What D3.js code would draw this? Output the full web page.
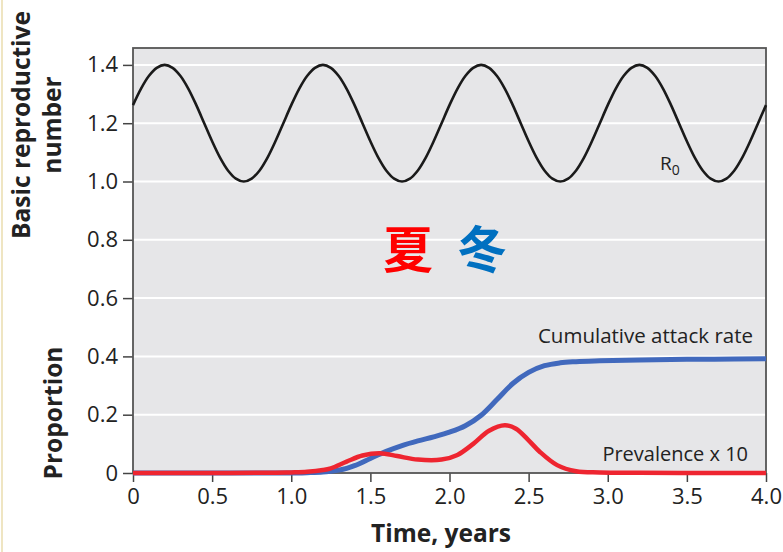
<!DOCTYPE html>
<html><head><meta charset="utf-8">
<script src="https://cdn.jsdelivr.net/npm/d3@7"></script>
<style>body{margin:0;background:#fff;}svg{display:block;font-family:"Open Sans","Noto Sans",sans-serif;}</style>
</head><body>
<svg id="c" width="783" height="552"></svg>
<script>
// ---- data ----
const r0Times = d3.range(0, 4.0001, 0.05).map(v => +v.toFixed(2));
const r0Values = [
 1.262,1.318,1.362,1.390,1.400,1.390,1.362,1.318,1.262,1.200,1.138,1.082,1.038,1.010,1.000,1.010,1.038,1.082,1.138,1.200,
 1.262,1.318,1.362,1.390,1.400,1.390,1.362,1.318,1.262,1.200,1.138,1.082,1.038,1.010,1.000,1.010,1.038,1.082,1.138,1.200,
 1.262,1.318,1.362,1.390,1.400,1.390,1.362,1.318,1.262,1.200,1.138,1.082,1.038,1.010,1.000,1.010,1.038,1.082,1.138,1.200,
 1.262,1.318,1.362,1.390,1.400,1.390,1.362,1.318,1.262,1.200,1.138,1.082,1.038,1.010,1.000,1.010,1.038,1.082,1.138,1.200,
 1.262
];
const attackTimes = [0,0.5,1.0,1.1,1.2,1.25,1.3,1.35,1.4,1.5,1.6,1.7,1.8,1.9,2.0,2.1,2.2,2.3,2.4,2.5,2.6,2.7,2.8,2.95,3.2,3.5,3.8,4.0];
const attackValues = [0,0,0,0.001,0.003,0.006,0.010,0.016,0.025,0.050,0.074,0.094,0.110,0.124,0.140,0.162,0.198,0.252,0.307,0.345,0.368,0.378,0.382,0.385,0.388,0.390,0.391,0.392];
const prevTimes = [0,0.5,0.9,1.0,1.1,1.2,1.25,1.35,1.45,1.56,1.67,1.8,1.95,2.05,2.15,2.25,2.35,2.42,2.5,2.57,2.68,2.8,2.95,3.2,3.6,4.0];
const prevValues = [0,0,0.001,0.002,0.004,0.010,0.016,0.039,0.060,0.068,0.058,0.046,0.046,0.062,0.100,0.145,0.164,0.152,0.112,0.073,0.027,0.006,0.002,0.001,0,0];
const yTicks = [0,0.2,0.4,0.6,0.8,1.0,1.2,1.4];
const yTickLabels = ["0","0.2","0.4","0.6","0.8","1.0","1.2","1.4"];
const xTicks = [0,0.5,1.0,1.5,2.0,2.5,3.0,3.5,4.0];
const xTickLabels = ["0","0.5","1.0","1.5","2.0","2.5","3.0","3.5","4.0"];

// ---- layout ----
const svg = d3.select("#c");
const L = 133, R = 766, T = 48, B = 473;
const x = d3.scaleLinear().domain([0, 4]).range([L, R]);
const y = d3.scaleLinear().domain([0, 1.458]).range([B, T]);

// faint left border line
svg.append("line").attr("x1",2).attr("x2",2).attr("y1",0).attr("y2",552)
  .attr("stroke","#eadcae").attr("stroke-width",1.5);

svg.append("rect").attr("x",L).attr("y",T).attr("width",R-L).attr("height",B-T).attr("fill","#e6e6e8");

// grid
svg.append("g").selectAll("line").data(yTicks.filter(d=>d>0)).join("line")
  .attr("x1",L).attr("x2",R).attr("y1",d=>y(d)).attr("y2",d=>y(d))
  .attr("stroke","#fff").attr("stroke-width",2);

// axes
const yAxis = d3.axisLeft(y).tickValues(yTicks).tickFormat((d,i)=>yTickLabels[i]).tickSize(10).tickPadding(5);
const xAxis = d3.axisBottom(x).tickValues(xTicks).tickFormat((d,i)=>xTickLabels[i]).tickSize(9).tickPadding(4);
const gy = svg.append("g").attr("transform",`translate(${L},0)`).call(yAxis);
const gx = svg.append("g").attr("transform",`translate(0,${B})`).call(xAxis);
[gy,gx].forEach(g=>{
  g.select(".domain").remove();
  g.selectAll(".tick line").attr("stroke","#444").attr("stroke-width",1.5);
  g.selectAll(".tick text").attr("font-size",22).attr("fill","#222").attr("font-family","'Open Sans',sans-serif");
});
gx.selectAll(".tick text").attr("dy","0.8em");

// frame
svg.append("rect").attr("x",L).attr("y",T).attr("width",R-L).attr("height",B-T)
  .attr("fill","none").attr("stroke","#555").attr("stroke-width",1.8);

// lines
const line = d3.line().x(d=>x(d[0])).y(d=>y(d[1])).curve(d3.curveCatmullRom);
svg.append("path").datum(r0Times.map((t,i)=>[t,r0Values[i]]))
  .attr("d",line).attr("fill","none").attr("stroke","#1a1a1a").attr("stroke-width",2.6);
svg.append("path").datum(attackTimes.map((t,i)=>[t,attackValues[i]]))
  .attr("d",d3.line().x(d=>x(d[0])).y(d=>y(d[1])).curve(d3.curveMonotoneX)).attr("fill","none").attr("stroke","#4169bd").attr("stroke-width",5);
svg.append("path").datum(prevTimes.map((t,i)=>[t,prevValues[i]]))
  .attr("d",line).attr("fill","none").attr("stroke","#ee2530").attr("stroke-width",4.5);

// labels
svg.append("text").attr("x",753).attr("y",343).attr("text-anchor","end").attr("font-size",20.5).attr("fill","#222").text("Cumulative attack rate");
svg.append("text").attr("x",748).attr("y",461).attr("text-anchor","end").attr("font-size",20).attr("fill","#222").text("Prevalence x 10");
const r0t = svg.append("text").attr("x",660).attr("y",170).attr("font-size",19).attr("fill","#222");
r0t.append("tspan").text("R");
r0t.append("tspan").attr("font-size",14).attr("dy",5).text("0");

svg.append("text").attr("x",383).attr("y",268).attr("font-size",50).attr("font-weight","bold")
  .attr("font-family","'Noto Sans CJK SC',sans-serif").attr("fill","#ff0000").text("夏");
svg.append("text").attr("x",457).attr("y",268).attr("font-size",50).attr("font-weight","bold")
  .attr("font-family","'Noto Sans CJK SC',sans-serif").attr("fill","#0070c0").text("冬");

// axis titles
svg.append("text").attr("x",441).attr("y",542).attr("text-anchor","middle").attr("font-size",24.5).attr("font-weight","bold").attr("fill","#222").text("Time, years");
svg.append("text").attr("transform","translate(30,125) rotate(-90)").attr("text-anchor","middle").attr("font-size",24.5).attr("font-weight","bold").attr("fill","#222").text("Basic reproductive");
svg.append("text").attr("transform","translate(61,125) rotate(-90)").attr("text-anchor","middle").attr("font-size",24.5).attr("font-weight","bold").attr("fill","#222").text("number");
svg.append("text").attr("transform","translate(62,413) rotate(-90)").attr("text-anchor","middle").attr("font-size",24.5).attr("font-weight","bold").attr("fill","#222").text("Proportion");
</script>
</body></html>
